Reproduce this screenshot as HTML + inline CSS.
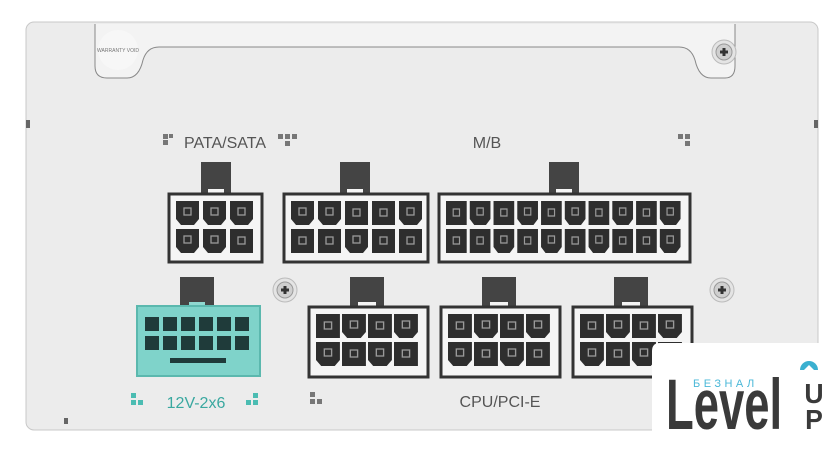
<!DOCTYPE html>
<html><head><meta charset="utf-8"><style>
html,body{margin:0;padding:0;background:#fff;width:840px;height:450px;overflow:hidden}
svg{display:block}
text{font-family:"Liberation Sans",sans-serif}
</style></head><body>
<svg width="840" height="450" viewBox="0 0 840 450" xmlns="http://www.w3.org/2000/svg">
<defs>
<g id="pin"><path d="M0,0h23v18l-5,6h-13l-5,-6z" fill="#2e2e2e"/><rect x="8" y="7" width="7" height="7" fill="none" stroke="#9a9a9a" stroke-width="1.3"/></g>
<g id="pin2"><path d="M0,0h23v24h-23z" fill="#2e2e2e"/><rect x="8" y="8" width="7" height="7" fill="none" stroke="#9a9a9a" stroke-width="1.3"/></g>
<g id="screw"><circle r="12" fill="#e4e4e4" stroke="#bbb"/><circle r="8" fill="#cfcfcf" stroke="#999"/><path d="M-4,0h8M0,-4v8" stroke="#333" stroke-width="3"/></g>
</defs>
<rect width="840" height="450" fill="#fff"/>
<rect x="26" y="22" width="792" height="408" rx="8" fill="#ececec" stroke="#c8c8c8"/>
<path d="M95,24 v42 q0,12 12,12 h20 q12,0 16,-18 q4,-13 16,-13 h520 q12,0 16,13 q4,18 16,18 h14 q10,0 10,-12 v-42" fill="#f3f3f3" stroke="#888" stroke-width="1"/>
<circle cx="118" cy="50" r="20" fill="#f7f7f7"/>
<text x="118" y="52" font-size="5" fill="#777" text-anchor="middle">WARRANTY VOID</text>
<use href="#screw" x="724" y="52"/>
<use href="#screw" x="285" y="290"/>
<use href="#screw" x="722" y="290"/>
<rect x="26" y="120" width="4" height="8" fill="#666"/><rect x="814" y="120" width="4" height="8" fill="#666"/>
<rect x="64" y="418" width="4" height="6" fill="#666"/>
<g fill="#777"><rect x="163" y="134" width="5" height="5"/><rect x="169" y="134" width="4" height="4"/><rect x="163" y="140" width="5" height="5"/>
<rect x="278" y="134" width="5" height="5"/><rect x="285" y="134" width="5" height="5"/><rect x="292" y="134" width="5" height="5"/><rect x="285" y="141" width="5" height="5"/>
<rect x="678" y="134" width="5" height="5"/><rect x="685" y="134" width="5" height="5"/><rect x="685" y="141" width="5" height="5"/>
<rect x="310" y="392" width="5" height="5"/><rect x="310" y="399" width="5" height="5"/><rect x="317" y="399" width="5" height="5"/></g>
<text x="225" y="148" font-size="16" fill="#555" text-anchor="middle">PATA/SATA</text>
<text x="487" y="148" font-size="16" fill="#555" text-anchor="middle">M/B</text>
<text x="500" y="407" font-size="16" fill="#555" text-anchor="middle">CPU/PCI-E</text>
<text x="196" y="408" font-size="16" fill="#3aa8a0" text-anchor="middle">12V-2x6</text>
<g fill="#4bbcb2"><rect x="131" y="393" width="5" height="5"/><rect x="131" y="400" width="5" height="5"/><rect x="138" y="400" width="5" height="5"/>
<rect x="253" y="393" width="5" height="5"/><rect x="246" y="400" width="5" height="5"/><rect x="253" y="400" width="5" height="5"/></g>
<!-- PATA/SATA -->
<rect x="201" y="162" width="30" height="32" fill="#444"/><rect x="208" y="189" width="16" height="8" fill="#f5f5f5"/>
<rect x="169" y="194" width="93" height="68" fill="#f5f5f5" stroke="#333" stroke-width="3"/>
<use href="#pin" x="176" y="201"/><use href="#pin" x="203" y="201"/><use href="#pin" x="230" y="201"/>
<use href="#pin" x="176" y="229"/><use href="#pin" x="203" y="229"/><use href="#pin2" x="230" y="229"/>
<!-- 10 pin -->
<rect x="340" y="162" width="30" height="32" fill="#444"/><rect x="347" y="189" width="16" height="8" fill="#f5f5f5"/>
<rect x="284" y="194" width="144" height="68" fill="#f5f5f5" stroke="#333" stroke-width="3"/>
<use href="#pin" x="291" y="201"/><use href="#pin" x="318" y="201"/><use href="#pin2" x="345" y="201"/><use href="#pin2" x="372" y="201"/><use href="#pin" x="399" y="201"/>
<use href="#pin2" x="291" y="229"/><use href="#pin2" x="318" y="229"/><use href="#pin" x="345" y="229"/><use href="#pin2" x="372" y="229"/><use href="#pin2" x="399" y="229"/>
<!-- M/B -->
<rect x="549" y="162" width="30" height="32" fill="#444"/><rect x="556" y="189" width="16" height="8" fill="#f5f5f5"/>
<rect x="439" y="194" width="251" height="68" fill="#f5f5f5" stroke="#333" stroke-width="3"/>
<g transform="translate(446,201) scale(0.9,1)">
<use href="#pin2" x="0" y="0"/><use href="#pin" x="26.4" y="0"/><use href="#pin2" x="52.8" y="0"/><use href="#pin" x="79.2" y="0"/><use href="#pin2" x="105.6" y="0"/><use href="#pin" x="132" y="0"/><use href="#pin2" x="158.4" y="0"/><use href="#pin" x="184.8" y="0"/><use href="#pin2" x="211.2" y="0"/><use href="#pin" x="237.6" y="0"/>
<use href="#pin2" x="0" y="28"/><use href="#pin2" x="26.4" y="28"/><use href="#pin" x="52.8" y="28"/><use href="#pin2" x="79.2" y="28"/><use href="#pin" x="105.6" y="28"/><use href="#pin2" x="132" y="28"/><use href="#pin" x="158.4" y="28"/><use href="#pin2" x="184.8" y="28"/><use href="#pin2" x="211.2" y="28"/><use href="#pin" x="237.6" y="28"/>
</g>
<!-- 12V-2x6 -->
<rect x="180" y="277" width="34" height="30" fill="#444"/><rect x="189" y="302" width="16" height="6" fill="#8fd8d0"/>
<rect x="137" y="306" width="123" height="70" fill="#7fd3ca" stroke="#5bb8ae" stroke-width="2"/>
<g fill="#1f3b3a">
<rect x="145" y="317" width="14" height="14"/><rect x="163" y="317" width="14" height="14"/><rect x="181" y="317" width="14" height="14"/><rect x="199" y="317" width="14" height="14"/><rect x="217" y="317" width="14" height="14"/><rect x="235" y="317" width="14" height="14"/>
<rect x="145" y="336" width="14" height="14"/><rect x="163" y="336" width="14" height="14"/><rect x="181" y="336" width="14" height="14"/><rect x="199" y="336" width="14" height="14"/><rect x="217" y="336" width="14" height="14"/><rect x="235" y="336" width="14" height="14"/>
<rect x="170" y="358" width="56" height="5"/></g>
<!-- 8 pins bottom -->
<g id="c8">
<rect x="350" y="277" width="34" height="30" fill="#444"/><rect x="358" y="302" width="18" height="8" fill="#f5f5f5"/>
<rect x="309" y="307" width="119" height="70" fill="#f5f5f5" stroke="#333" stroke-width="3"/>
<g transform="translate(316,314) scale(1.04,1)">
<use href="#pin2" x="0" y="0"/><use href="#pin" x="25" y="0"/><use href="#pin2" x="50" y="0"/><use href="#pin" x="75" y="0"/>
<use href="#pin" x="0" y="28"/><use href="#pin2" x="25" y="28"/><use href="#pin" x="50" y="28"/><use href="#pin2" x="75" y="28"/>
</g>
</g>
<use href="#c8" x="132"/>
<use href="#c8" x="264"/>
<!-- logo -->
<path d="M652,351 q0,-8 8,-8 h180 v107 h-188z" fill="#fff"/>
<text x="693" y="387" font-size="11" fill="#4bb8d8" letter-spacing="3.5">БЕЗНАЛ</text>
<text transform="translate(666,429) scale(0.64,1)" font-size="71" font-weight="bold" fill="#3a3a3a">Level</text>
<path d="M800,370 a9,9 0 0 1 18,0z" fill="#3ab0d0"/>
<path d="M804,370 l5,-5 l5,5z" fill="#fff"/>
<text transform="translate(814,403) scale(0.95,1)" font-size="28" font-weight="bold" fill="#3a3a3a" text-anchor="middle">U</text>
<text transform="translate(814,429) scale(0.95,1)" font-size="28" font-weight="bold" fill="#3a3a3a" text-anchor="middle">P</text>
</svg>
</body></html>
